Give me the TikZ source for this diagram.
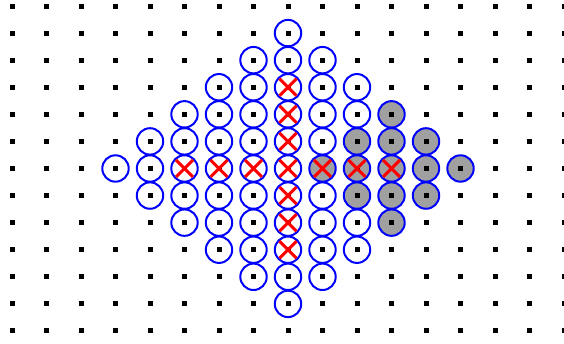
\documentclass[tikz,border=0pt]{standalone}
\definecolor{cblue}{RGB}{0,0,255}
\definecolor{cgray}{RGB}{160,160,160}
\definecolor{cred}{RGB}{255,0,0}
\tikzset{
  ring/.style={draw=cblue, line width=2pt},
  cross/.style={draw=cred, line width=3pt},
}
\begin{document}
\begin{tikzpicture}[x=1pt,y=-1pt]
\useasboundingbox (0,0) rectangle (564,343);
\begin{scope}
\clip (0,0) rectangle (564,343);
\foreach \i in {0,...,16}{
  \foreach \j in {0,...,12}{
    \pgfmathtruncatemacro\dA{abs(\i-8)+abs(\j-6)}
    \pgfmathtruncatemacro\dB{abs(\i-11)+abs(\j-6)}
    \ifnum\dA<6
      \ifnum\dB<3
        \filldraw[ring, fill=cgray] (12+34.5*\i, 6+27.08*\j) circle (13.2);
      \else
        \filldraw[ring, fill=white] (12+34.5*\i, 6+27.08*\j) circle (13.2);
      \fi
    \fi
    \fill[black] (9.5+34.5*\i, 3.5+27.08*\j) rectangle (14.5+34.5*\i, 8.5+27.08*\j);
  }
}
\foreach \i in {5,...,11}{
  \draw[cross] (12+34.5*\i-8.5, 6+27.08*6-8.5) -- (12+34.5*\i+8.5, 6+27.08*6+8.5)
               (12+34.5*\i-8.5, 6+27.08*6+8.5) -- (12+34.5*\i+8.5, 6+27.08*6-8.5);
}
\foreach \j in {3,4,5,7,8,9}{
  \draw[cross] (12+34.5*8-8.5, 6+27.08*\j-8.5) -- (12+34.5*8+8.5, 6+27.08*\j+8.5)
               (12+34.5*8-8.5, 6+27.08*\j+8.5) -- (12+34.5*8+8.5, 6+27.08*\j-8.5);
}
\end{scope}
\end{tikzpicture}
\end{document}
